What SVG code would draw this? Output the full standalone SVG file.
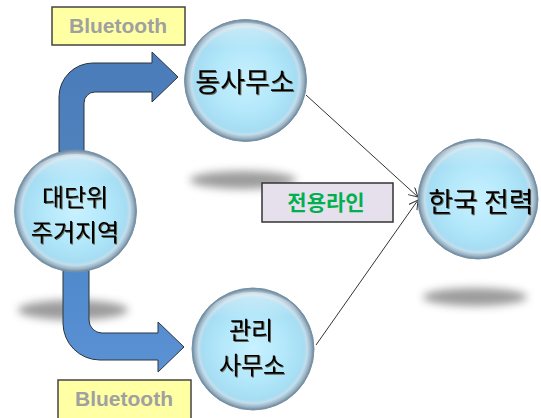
<svg xmlns="http://www.w3.org/2000/svg" width="541" height="418" viewBox="0 0 541 418">
<defs>
<radialGradient id="ball" cx="0.5" cy="0.5" r="0.5">
<stop offset="0" stop-color="#C8F1FF"/>
<stop offset="0.55" stop-color="#B2E7FA"/>
<stop offset="0.84" stop-color="#A6DDF3"/>
<stop offset="0.89" stop-color="#C3DEEC"/>
<stop offset="0.95" stop-color="#9BB4C6"/>
<stop offset="1" stop-color="#6A8498"/>
</radialGradient>
<linearGradient id="shine" x1="0" y1="0" x2="0" y2="1">
<stop offset="0" stop-color="#FFFFFF" stop-opacity="0.45"/>
<stop offset="0.4" stop-color="#FFFFFF" stop-opacity="0"/>
</linearGradient>
<linearGradient id="arrowTop" x1="0" y1="0" x2="0" y2="1">
<stop offset="0" stop-color="#4A7CBA"/>
<stop offset="1" stop-color="#4F81BD"/>
</linearGradient>
<linearGradient id="arrowBot" x1="0" y1="0" x2="0" y2="1">
<stop offset="0" stop-color="#5089CC"/>
<stop offset="1" stop-color="#5A92D4"/>
</linearGradient>
<filter id="blur" x="-30%" y="-100%" width="160%" height="300%">
<feGaussianBlur stdDeviation="4.5"/>
</filter>
<filter id="tshadow" x="-10%" y="-20%" width="120%" height="140%">
<feDropShadow dx="1" dy="1" stdDeviation="0.6" flood-color="#3A2A10" flood-opacity="0.7"/>
</filter>
<marker id="open" markerUnits="userSpaceOnUse" markerWidth="12" markerHeight="12" refX="9" refY="5" orient="auto">
<path d="M0,0 L9,5 L0,10" fill="none" stroke="#333333" stroke-width="1"/>
</marker>
<style>
.shadow{fill:#7A7A7A;opacity:0.75;filter:url(#blur)}
.ball{fill:url(#ball);stroke:#7892A6;stroke-width:1}
.shine{fill:url(#shine)}
.lbl{font-family:"Noto Sans CJK KR","Noto Sans",sans-serif;font-size:27px;fill:#000;text-anchor:middle;filter:url(#tshadow)}
.lbl2{font-family:"Noto Sans CJK KR","Noto Sans",sans-serif;font-size:24px;fill:#000;text-anchor:middle;filter:url(#tshadow)}
.bt{fill:#FFFFA3;stroke:#444;stroke-width:1.5}
.bttxt{font-family:"Liberation Sans",Arial,sans-serif;font-weight:bold;font-size:21px;fill:#A0A0A0;text-anchor:middle}
.line{fill:none;stroke:#333333;stroke-width:1;marker-end:url(#open)}
.bigarrow{stroke:#2A3440;stroke-width:1}
</style>
</defs>
<rect width="541" height="418" fill="#FFFFFF"/>

<g id="shadows">
<ellipse class="shadow" cx="243" cy="180" rx="53" ry="9"/>
<ellipse class="shadow" cx="73" cy="310" rx="55" ry="10"/>
<ellipse class="shadow" cx="475" cy="297" rx="52" ry="9"/>
</g>

<g id="connectors">
<path id="arrow-top" class="bigarrow" fill="url(#arrowTop)" d="M59,152 L59,97 A34,34 0 0 1 93,63 L152,63 L152,52 L178,77 L152,102 L152,92 L95,92 A11,11 0 0 0 84,103 L84,152 Z"/>
<path id="arrow-bottom" class="bigarrow" fill="url(#arrowBot)" d="M63,270 L63,323 A37,37 0 0 0 100,360 L158,360 L158,372 L184,347 L158,322 L158,333 L102,333 A13,13 0 0 1 89,320 L89,270 Z"/>
<line class="line" x1="306" y1="95" x2="418" y2="197"/>
<line class="line" x1="316" y1="345" x2="418" y2="200"/>
</g>

<g id="node-dongsamuso">
<circle class="ball" cx="245.5" cy="80.5" r="61"/>
<ellipse class="shine" cx="245.5" cy="55" rx="50" ry="32"/>
<text class="lbl" x="245" y="92">동사무소</text>
</g>

<g id="node-daedanwi">
<circle class="ball" cx="75.5" cy="211" r="61"/>
<ellipse class="shine" cx="75.5" cy="186" rx="50" ry="32"/>
<text class="lbl2" x="75" y="206"><tspan x="75">대단위</tspan><tspan x="75" dy="35">주거지역</tspan></text>
</g>

<g id="node-gwanri">
<circle class="ball" cx="253" cy="349" r="61"/>
<ellipse class="shine" cx="253" cy="324" rx="50" ry="32"/>
<text class="lbl2" x="252" y="339"><tspan x="251">관리</tspan><tspan x="252" dy="35">사무소</tspan></text>
</g>

<g id="node-kepco">
<circle class="ball" cx="478" cy="199" r="60"/>
<ellipse class="shine" cx="478" cy="174" rx="50" ry="32"/>
<text class="lbl" x="481" y="212">한국 전력</text>
</g>

<g id="label-bt-top">
<rect class="bt" x="52" y="7" width="133" height="38"/>
<text class="bttxt" x="118" y="33">Bluetooth</text>
</g>

<g id="label-bt-bottom">
<rect class="bt" x="58" y="380" width="133" height="40"/>
<text class="bttxt" x="124" y="406">Bluetooth</text>
</g>

<g id="label-line">
<rect x="262" y="183" width="131" height="39" fill="#E6E0EC" stroke="#333" stroke-width="1.5"/>
<text x="326" y="210" font-family="'Noto Sans CJK KR','Noto Sans',sans-serif" font-size="21" font-weight="bold" fill="#00B050" text-anchor="middle">전용라인</text>
</g>
</svg>
